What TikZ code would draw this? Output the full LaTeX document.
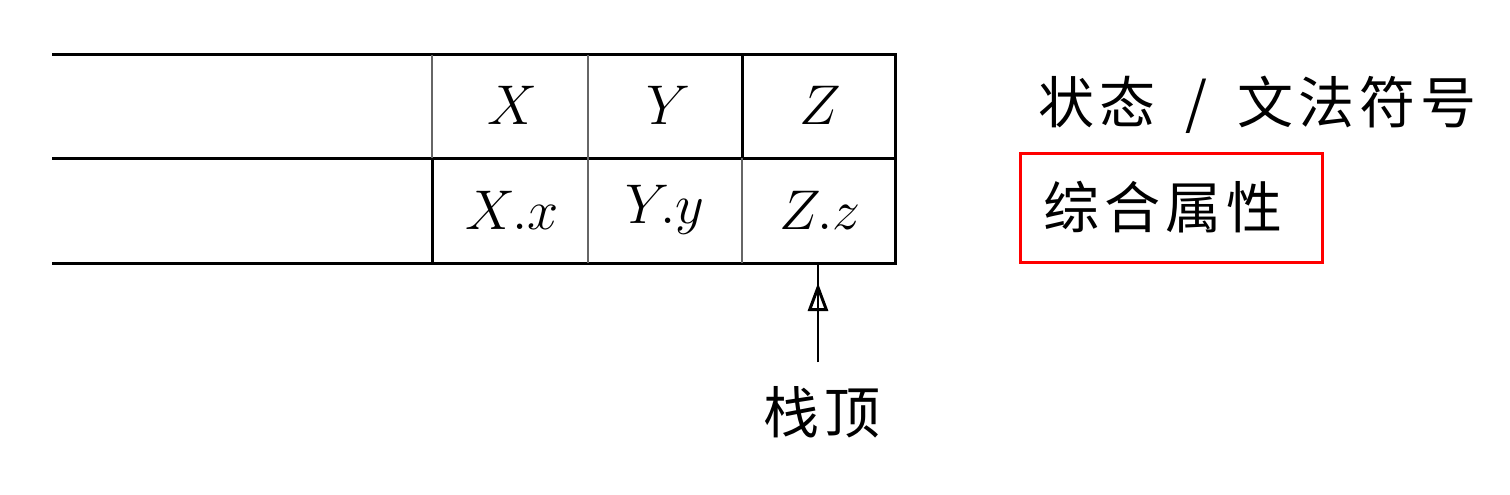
\documentclass[tikz,border=0pt]{standalone}
\usepackage{fontspec}
\newfontfamily\cjk[LetterSpace=9]{Noto Sans CJK SC}
\usetikzlibrary{arrows.meta}
\begin{document}
\begin{tikzpicture}[x=1pt,y=-1pt,
  outer/.style={line width=3pt,black},
  inner/.style={line width=1.8pt,black!60},
  mathlbl/.style={font=\Huge,scale=2.25,inner sep=0pt},
  cjklbl/.style={font=\cjk\fontsize{56}{60}\selectfont,inner sep=0pt},
  redbox/.style={draw=red,line width=3pt}]
\useasboundingbox (0,0) rectangle (1510,495);
% stack lines
\draw[outer] (52,55) -- (895,55) -- (895,263) -- (52,263);
\draw[outer] (52,158) -- (895,158);
\draw[inner] (432,55) -- (432,158);
\draw[outer] (432,158) -- (432,263);
\draw[inner] (588,55) -- (588,263);
\draw[outer] (742,55) -- (742,158);
\draw[inner] (742,158) -- (742,263);
% cell labels
\node[mathlbl] (x)  at (512,105) {$X$};
\node[mathlbl] (y)  at (668,105) {$Y$};
\node[mathlbl] (z)  at (820,105) {$Z$};
\node[mathlbl] (xx) at (512,210) {$X.x$};
\node[mathlbl] (yy) at (665,210) {$Y.y$};
\node[mathlbl] (zz) at (820,210) {$Z.z$};
% top pointer
\coordinate (top) at (818,263);
\coordinate (tip) at (818,283);
\coordinate (tail) at (818,362);
\node[cjklbl] (lbl) at (822,412) {栈顶};
\draw[line width=2pt] (tail) -- (top);
\draw[line width=2pt,-{Triangle[open,length=28pt,width=20pt,line width=3pt]}] (tail) -- (tip);
% legend
\node[cjklbl,anchor=west] (st) at (1038,105) {状态\hspace{30pt}/\hspace{30pt}文法符号};
\node[cjklbl,anchor=west] (syn) at (1043,207) {综合属性};
\draw[redbox] (1020,153) rectangle (1322,262);
\end{tikzpicture}
\end{document}
